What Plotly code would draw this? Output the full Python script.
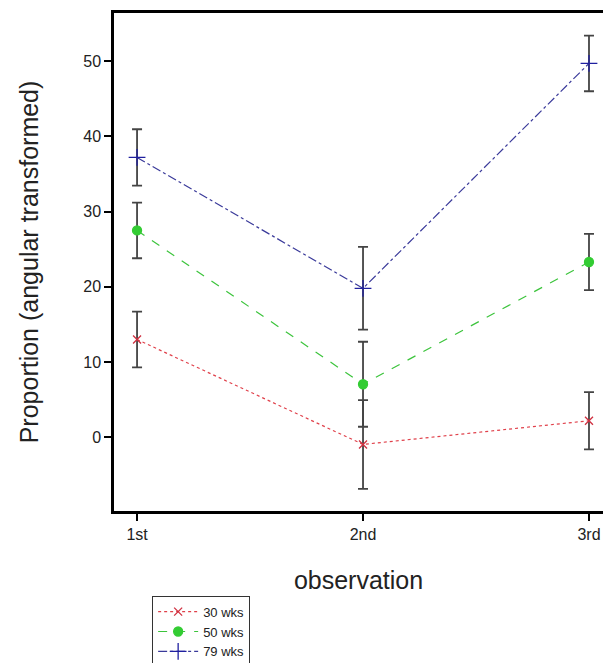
import plotly.graph_objects as go

observations = ["1st", "2nd", "3rd"]
obs_pos = [1, 2, 3]

series_names = ["30 wks", "50 wks", "79 wks"]
wks30 = [13.0, -0.95, 2.2]
wks30_err = [3.7, 5.9, 3.8]
wks50 = [27.5, 7.05, 23.3]
wks50_err = [3.7, 5.65, 3.75]
wks79 = [37.2, 19.8, 49.7]
wks79_err = [3.75, 5.5, 3.7]

y_ticks = [0, 10, 20, 30, 40, 50]

styles = [
    dict(color="#e0404a", dash="dot", symbol="x-thin-open", size=8, mcolor="#d03040"),
    dict(color="#3cc43c", dash="dash", symbol="circle", size=9, mcolor="#33cc33"),
    dict(color="#3a3a9a", dash="dashdot", symbol="cross-thin-open", size=12, mcolor="#2020a0"),
]

fig = go.Figure()
for name, vals, errs, st in zip(series_names, [wks30, wks50, wks79],
                                [wks30_err, wks50_err, wks79_err], styles):
    fig.add_trace(go.Scatter(
        x=obs_pos, y=vals, name=name, mode="lines+markers",
        line=dict(color=st["color"], dash=st["dash"], width=1.2),
        marker=dict(symbol=st["symbol"], size=st["size"], color=st["mcolor"],
                    line=dict(color=st["mcolor"], width=1.3)),
        error_y=dict(type="data", array=errs, visible=True, color="#444444",
                     thickness=1.8, width=5),
    ))

fig.update_layout(
    width=603, height=663,
    margin=dict(l=114, r=0, t=13, b=152, autoexpand=False),
    paper_bgcolor="white", plot_bgcolor="white",
    font=dict(family="Liberation Sans, Arial, sans-serif", color="#222222"),
    showlegend=True,
    legend=dict(x=0.078, y=-0.17, xanchor="left", yanchor="top",
                bordercolor="#333333", borderwidth=1, bgcolor="white",
                font=dict(size=13, color="#222222"), tracegroupgap=0,
                itemwidth=40),
    xaxis=dict(
        range=[0.898, 3.062], tickmode="array", tickvals=obs_pos, ticktext=observations,
        showgrid=False, zeroline=False, showline=True, linecolor="black", linewidth=2.5,
        mirror=True, ticks="outside", ticklen=7, tickwidth=2, tickcolor="black",
        tickfont=dict(size=16, color="#222222"),
        title=dict(text="observation", font=dict(size=25, color="#222222"), standoff=30),
    ),
    yaxis=dict(
        range=[-9.8, 56.4], tickmode="array", tickvals=y_ticks,
        showgrid=False, zeroline=False, showline=True, linecolor="black", linewidth=2.5,
        ticks="outside", ticklen=7, tickwidth=2, tickcolor="black",
        tickfont=dict(size=16, color="#222222"),
        title=dict(text="Proportion (angular transformed)", font=dict(size=25, color="#222222"),
                   standoff=38),
    ),
)

fig.write_html("out.html")
